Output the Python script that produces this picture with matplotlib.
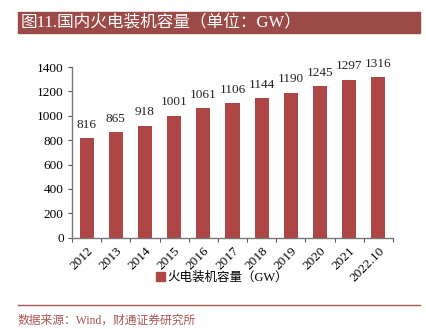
import matplotlib
matplotlib.use("Agg")
import matplotlib.pyplot as plt
from matplotlib.patches import Rectangle
from matplotlib.lines import Line2D

categories = ["2012", "2013", "2014", "2015", "2016", "2017", "2018", "2019", "2020", "2021", "2022.10"]
capacity = [816, 865, 918, 1001, 1061, 1106, 1144, 1190, 1245, 1297, 1316]
series_name = "火电装机容量（GW）"
title_text = "图11.国内火电装机容量（单位：GW）"
source_text = "数据来源：Wind，财通证券研究所"

BAR = "#AE4646"
BAND = "#9C4A47"
ACCENT = "#A85550"
SERIF = ["Liberation Serif", "Noto Sans CJK SC"]
CJK = ["Liberation Serif", "Noto Sans CJK SC"]

fig = plt.figure(figsize=(4.27, 3.29), dpi=100)
W, H = 427, 329

# title band
fig.patches.append(Rectangle((18 / W, 1 - 33 / H), (420 - 18) / W, 21 / H,
                             transform=fig.transFigure, color=BAND, zorder=0))
fig.text(21 / W, 1 - 22.5 / H, title_text, color="white", fontsize=12,
         family=CJK, va="center", ha="left")

ax = fig.add_axes([72 / W, 1 - 237.7 / H, (393 - 72) / W, (237.7 - 67) / H])
x = list(range(len(categories)))
ax.bar(x, capacity, width=0.48, color=BAR, zorder=2)
for xi, v in zip(x, capacity):
    ax.text(xi, v + 60, f"{v}", ha="center", va="bottom", fontsize=9.5,
            family=SERIF, color="#222222")

ax.set_xlim(-0.5, len(categories) - 0.5)
ax.set_ylim(0, 1400)
ax.set_yticks(range(0, 1401, 200))
ax.set_yticklabels([str(t) for t in range(0, 1401, 200)], family=SERIF, fontsize=9.5)
ax.set_xticks([i + 0.5 for i in range(-1, len(categories))], minor=False)
ax.set_xticklabels([])
ax.set_xticks(x, minor=True)
ax.set_xticklabels(categories, minor=True, rotation=45, ha="right",
                   rotation_mode="anchor", family=SERIF, fontsize=9.5)
ax.tick_params(axis="x", which="minor", length=0, pad=5)
ax.tick_params(axis="x", which="major", length=3, direction="out", color="#555555")
ax.tick_params(axis="y", length=3, direction="out", color="#555555", pad=3)
for s in ["top", "right"]:
    ax.spines[s].set_visible(False)
for s in ["left", "bottom"]:
    ax.spines[s].set_color("#777777")
    ax.spines[s].set_linewidth(1.0)

handle = Rectangle((0, 0), 1, 1, color=BAR)
fig.legend([handle], [series_name], loc="center", bbox_to_anchor=(222 / W, 1 - 278 / H),
           frameon=False, prop={"family": CJK, "size": 9}, handlelength=0.7,
           handleheight=0.7, handletextpad=0.2)

# footer rule and source
fig.add_artist(Line2D([18 / W, 420 / W], [1 - 305 / H, 1 - 305 / H],
                      transform=fig.transFigure, color=ACCENT, lw=1.0))
fig.text(18 / W, 1 - 321 / H, source_text, color=ACCENT, fontsize=8.5,
         family=CJK, va="center", ha="left")

fig.savefig("out.png", dpi=100)
